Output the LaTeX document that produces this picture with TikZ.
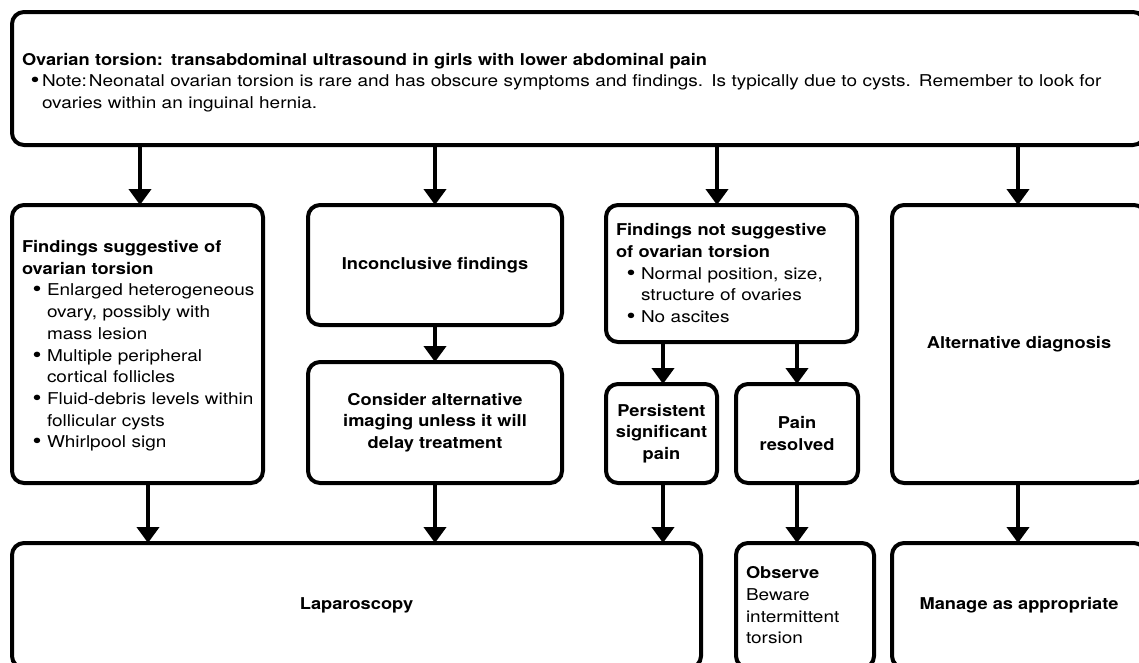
\documentclass[tikz,border=0pt]{standalone}
\usepackage{fontspec}
\setmainfont{TeX Gyre Heros}[FakeStretch=1.165, BoldFeatures={FakeStretch=1.12}]
\usetikzlibrary{arrows.meta}
\newcommand\myfs{\fontsize{16.3}{21.7}\selectfont}
\newcommand\bigbul{\raisebox{-1pt}{\scalebox{1.35}{\textbullet}}}
\newcommand\bulA[1]{\mbox{\makebox[25pt][l]{\hspace{15pt}\makebox[0pt]{\bigbul}}#1}}
\newcommand\indA[1]{\mbox{\hspace*{25pt}#1}}
\newcommand\bulT{\makebox[20pt][l]{\hspace{13pt}\makebox[0pt]{\bigbul}}}
\tikzset{
  box/.style={draw, line width=4pt, rounded corners=12pt, inner ysep=0pt, font=\myfs, anchor=center},
  lbox/.style={box, inner xsep=10pt, align=left},
  cbox/.style={box, inner xsep=0pt, align=center},
  arr/.style={line width=4pt, shorten >=-2pt, -{Triangle[width=22pt,length=16pt]}},
}
\begin{document}
\begin{tikzpicture}[x=1pt,y=-1pt]
\useasboundingbox (0,0) rectangle (1139,662);
\clip (0,0) rectangle (1139,662);
\fill[white] (0,0) rectangle (1139,662);

\node[lbox, text width=1113pt, minimum height=133pt] (top) at (578.5,78.5)
 {\rule{0pt}{20pt}\textbf{Ovarian torsion: transabdominal ultrasound in girls with lower abdominal pain}\\
  \mbox{\bulT Note:\hspace{2pt}Neonatal ovarian torsion is rare and has obscure symptoms and findings. Is typically due to cysts. Remember to look for}\\
  \hspace*{20pt}ovaries within an inguinal hernia.};

\node[lbox, text width=231pt, minimum height=278pt] (A) at (137.5,344)
 {\rule{0pt}{16pt}\textbf{Findings suggestive of}\\
  \textbf{ovarian torsion}\\
  \bulA{Enlarged heterogeneous}\\
  \indA{ovary, possibly with}\\
  \indA{mass lesion}\\
  \bulA{Multiple peripheral}\\
  \indA{cortical follicles}\\
  \bulA{Fluid-debris levels within}\\
  \indA{follicular cysts}\\
  \bulA{Whirlpool sign}};

\node[cbox, minimum width=254pt, minimum height=120pt] (B) at (435,265)
 {\textbf{Inconclusive findings}};
\node[cbox, minimum width=254pt, minimum height=121pt] (C) at (435,422.5)
 {\textbf{Consider alternative}\\ \textbf{imaging unless it will}\\ \textbf{delay treatment}};

\node[lbox, text width=231pt, minimum height=137pt] (D) at (731.5,273.5)
 {\textbf{Findings not suggestive}\\
  \textbf{of ovarian torsion}\\
  \bulA{Normal position, size,}\\
  \indA{structure of ovaries}\\
  \bulA{No ascites}};

\node[cbox, minimum width=111pt, minimum height=99pt] (P) at (661.5,433.5)
 {\textbf{Persistent}\\ \textbf{significant}\\ \textbf{pain}};
\node[cbox, minimum width=122pt, minimum height=99pt] (R) at (797,433.5)
 {\textbf{Pain}\\ \textbf{resolved}};

\node[cbox, minimum width=254pt, minimum height=278pt] (Alt) at (1019,344)
 {\textbf{Alternative diagnosis}};

\node[cbox, minimum width=689pt, minimum height=125pt] (Lap) at (356.5,605.5)
 {\textbf{Laparoscopy}};
\node[lbox, text width=118pt, minimum height=125pt] (Obs) at (805,605.5)
 {\textbf{Observe}\\ Beware\\ \mbox{intermittent}\\ torsion};
\node[cbox, minimum width=254pt, minimum height=125pt] (Man) at (1019,605.5)
 {\textbf{Manage as appropriate}};

\coordinate (x1) at (140,0);
\coordinate (x2) at (435,0);
\coordinate (x3) at (717,0);
\coordinate (x4) at (1018,0);
\coordinate (x5) at (148,0);
\coordinate (x6) at (663,0);
\coordinate (x7) at (797,0);

\draw[arr] (top.south -| x1) -- (A.north -| x1);
\draw[arr] (top.south -| x2) -- (B.north -| x2);
\draw[arr] (top.south -| x3) -- (D.north -| x3);
\draw[arr] (top.south -| x4) -- (Alt.north -| x4);
\draw[arr] (B.south -| x2) -- (C.north -| x2);
\draw[arr] (D.south -| x6) -- (P.north -| x6);
\draw[arr] (D.south -| x7) -- (R.north -| x7);
\draw[arr] (A.south -| x5) -- (Lap.north -| x5);
\draw[arr] (C.south -| x2) -- (Lap.north -| x2);
\draw[arr] (P.south -| x6) -- (Lap.north -| x6);
\draw[arr] (R.south -| x7) -- (Obs.north -| x7);
\draw[arr] (Alt.south -| x4) -- (Man.north -| x4);
\end{tikzpicture}
\end{document}
